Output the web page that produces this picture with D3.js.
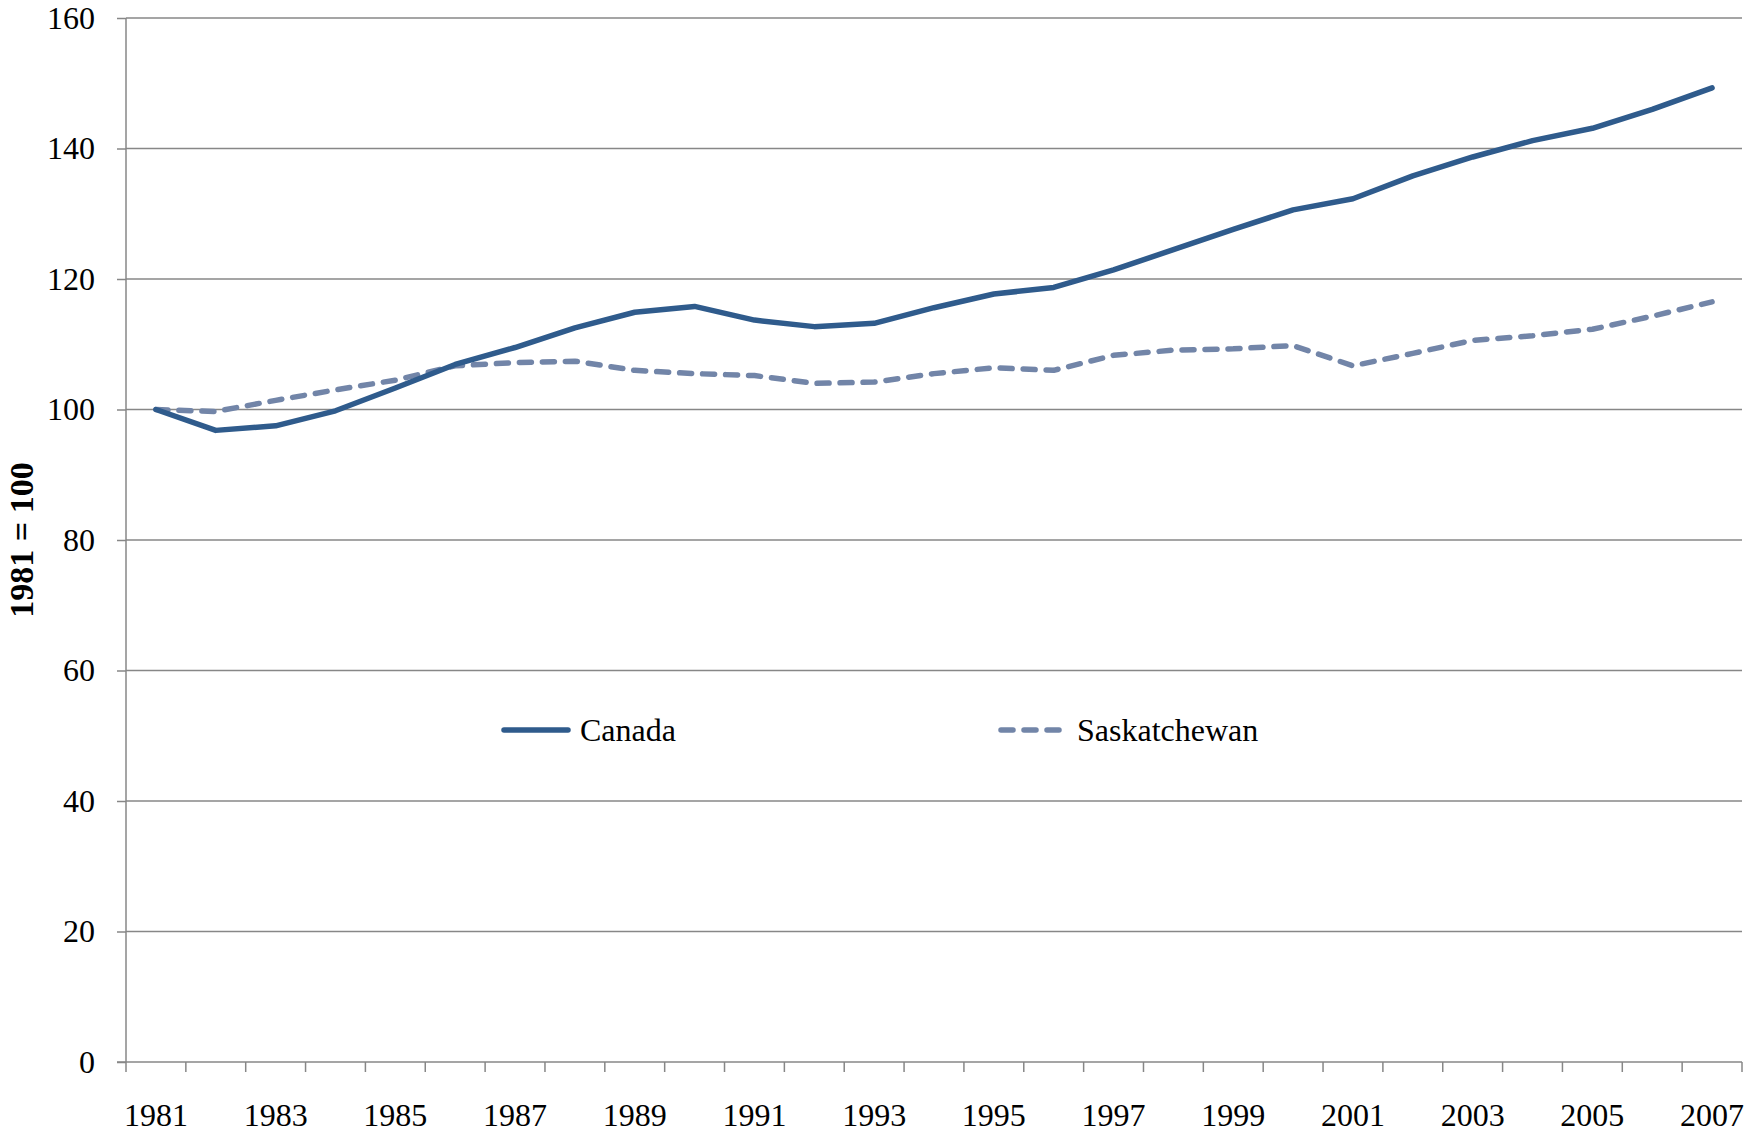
<!DOCTYPE html>
<html>
<head>
<meta charset="utf-8">
<script src="https://cdn.jsdelivr.net/npm/d3@7"></script>
<style>
  body { margin: 0; background: #fff; }
  svg text { font-family: "Liberation Serif", "DejaVu Serif", serif; fill: #000; }
</style>
</head>
<body>
<svg id="chart" width="1748" height="1138"></svg>
<script>
// data (index, 1981 = 100)
var years = [1981,1982,1983,1984,1985,1986,1987,1988,1989,1990,1991,1992,1993,1994,
             1995,1996,1997,1998,1999,2000,2001,2002,2003,2004,2005,2006,2007];
var canada = [100,96.8,97.5,99.8,103.3,106.9,109.5,112.5,114.9,115.8,113.7,112.7,113.2,115.6,
              117.7,118.7,121.4,124.5,127.6,130.6,132.3,135.8,138.7,141.2,143.1,146.0,149.3];
var saskatchewan = [100,99.7,101.4,103.0,104.5,106.7,107.2,107.4,106.0,105.5,105.2,104.0,104.2,105.5,
                    106.4,106.0,108.3,109.1,109.3,109.8,106.7,108.6,110.6,111.3,112.3,114.3,116.5];
var yTicks = [0,20,40,60,80,100,120,140,160];
var xLabels = [1981,1983,1985,1987,1989,1991,1993,1995,1997,1999,2001,2003,2005,2007];

// (window.top is read-only, so the plot edges get their own names)
var plotLeft = 126, plotRight = 1742, plotTop = 18, plotBottom = 1062;
var gray = "#878787";
var fontSize = 32;

var svg = d3.select("#chart");

var xScale = d3.scaleBand()
    .domain(years)
    .range([plotLeft, plotRight]);

var yScale = d3.scaleLinear()
    .domain([0, 160])
    .range([plotBottom, plotTop]);

// gridlines
svg.append("g")
    .selectAll("line")
    .data(yTicks.filter(function(d){ return d > 0; }))
    .enter()
    .append("line")
    .attr("x1", plotLeft)
    .attr("x2", plotRight)
    .attr("y1", function(d){ return yScale(d); })
    .attr("y2", function(d){ return yScale(d); })
    .attr("stroke", gray)
    .attr("stroke-width", 1.5);

// y axis
var yAxis = d3.axisLeft(yScale)
    .tickValues(yTicks)
    .tickSize(9)
    .tickPadding(22)
    .tickFormat(d3.format("d"));
var gy = svg.append("g")
    .attr("transform", "translate(" + plotLeft + ",0)")
    .call(yAxis);
gy.select(".domain").attr("stroke", gray).attr("stroke-width", 1.5)
    .attr("d", "M0," + plotTop + "V" + plotBottom);
gy.selectAll(".tick line").attr("stroke", gray).attr("stroke-width", 1.5);
gy.selectAll(".tick text")
    .attr("font-size", fontSize)
    .attr("font-family", "Liberation Serif, serif")
    .attr("fill", "#000");

// x axis: ticks between categories, labels every other year
var gx = svg.append("g")
    .attr("transform", "translate(0," + plotBottom + ")");
gx.append("line")
    .attr("x1", plotLeft - 9)
    .attr("x2", plotRight)
    .attr("stroke", gray)
    .attr("stroke-width", 1.5);
var bounds = years.map(function(y){ return xScale(y); }).concat([plotRight]);
gx.selectAll(".xt")
    .data(bounds)
    .enter()
    .append("line")
    .attr("class", "xt")
    .attr("x1", function(d){ return d; })
    .attr("x2", function(d){ return d; })
    .attr("y1", 0)
    .attr("y2", 10)
    .attr("stroke", gray)
    .attr("stroke-width", 1.5);
gx.selectAll("text")
    .data(xLabels)
    .enter()
    .append("text")
    .attr("x", function(d){ return xScale(d) + xScale.bandwidth() / 2; })
    .attr("y", 64)
    .attr("text-anchor", "middle")
    .attr("font-size", fontSize)
    .text(function(d){ return d; });

// y title
svg.append("text")
    .attr("transform", "translate(33," + ((plotTop + plotBottom) / 2) + ") rotate(-90)")
    .attr("text-anchor", "middle")
    .attr("font-size", 34)
    .attr("font-weight", "bold")
    .text("1981 = 100");

var line = d3.line()
    .x(function(d, i){ return xScale(years[i]) + xScale.bandwidth() / 2; })
    .y(function(d){ return yScale(d); });

var series = [
    { name: "Canada", values: canada, color: "#2f5b8c", dash: null },
    { name: "Saskatchewan", values: saskatchewan, color: "#7285a8", dash: "12,11" }
];

svg.selectAll(".series")
    .data(series.slice().reverse())
    .enter()
    .append("path")
    .attr("class", "series")
    .attr("d", function(s){ return line(s.values); })
    .attr("fill", "none")
    .attr("stroke", function(s){ return s.color; })
    .attr("stroke-width", 5.5)
    .attr("stroke-linecap", "round")
    .attr("stroke-linejoin", "round")
    .attr("stroke-dasharray", function(s){ return s.dash; });

// legend
var legendX = [504, 1001];
var legend = svg.selectAll(".legend")
    .data(series)
    .enter()
    .append("g")
    .attr("class", "legend")
    .attr("transform", function(s, i){ return "translate(" + legendX[i] + ",730)"; });
legend.append("line")
    .attr("x1", 0)
    .attr("x2", 64)
    .attr("stroke", function(s){ return s.color; })
    .attr("stroke-width", 5.5)
    .attr("stroke-linecap", "round")
    .attr("stroke-dasharray", function(s){ return s.dash; });
legend.append("text")
    .attr("x", 76)
    .attr("y", 11)
    .attr("font-size", fontSize)
    .text(function(s){ return s.name; });
</script>
</body>
</html>
